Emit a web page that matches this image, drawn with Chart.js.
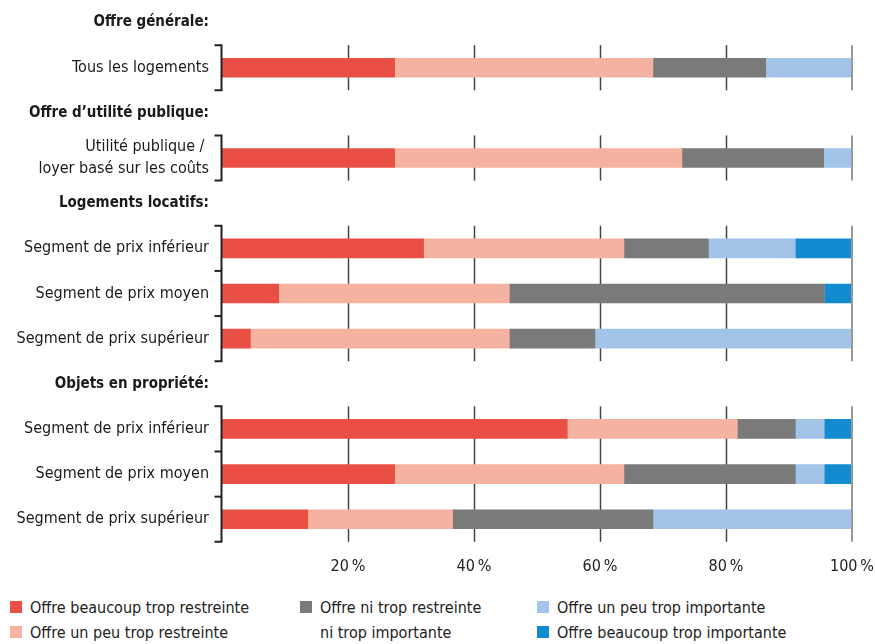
<!DOCTYPE html>
<html lang="fr">
<head>
<meta charset="utf-8">
<title>Offre de logements</title>
<script src="https://cdn.jsdelivr.net/npm/chart.js@4"></script>
<style>
  body { margin: 0; background: #fff; }
  #wrap { position: relative; width: 875px; height: 644px; }
  #graphique { position: absolute; left: 0; top: 0; }
  #legende {
    position: absolute; left: 10px; top: 595px;
    display: grid;
    grid-auto-flow: column;
    grid-template-rows: 25px 25px;
    grid-template-columns: 290px 237px 300px;
    font-family: 'Liberation Sans Narrow', 'DejaVu Sans Condensed', Roboto, sans-serif;
    font-size: 16px; color: #222;
  }
  .item { display: flex; align-items: flex-start; line-height: 25px; white-space: pre-line; }
  .item.double { grid-row: span 2; }
  .carre { width: 12px; height: 12px; margin: 6px 8px 0 0; flex: none; }
</style>
</head>
<body>
<div id="wrap">
  <canvas id="graphique" width="875" height="593"></canvas>
  <div id="legende"></div>
</div>
<script>
const police = "'Liberation Sans Narrow', 'DejaVu Sans Condensed', Roboto, sans-serif";

const categories = [
  'Offre générale:',
  'Tous les logements',
  'Offre d’utilité publique:',
  ['Utilité publique / ', 'loyer basé sur les coûts'],
  'Logements locatifs:',
  'Segment de prix inférieur',
  'Segment de prix moyen',
  'Segment de prix supérieur',
  'Objets en propriété:',
  'Segment de prix inférieur',
  'Segment de prix moyen',
  'Segment de prix supérieur'
];

const nomsSeries = [
  'Offre beaucoup trop restreinte',
  'Offre un peu trop restreinte',
  'Offre ni trop restreinte\nni trop importante',
  'Offre un peu trop importante',
  'Offre beaucoup trop importante'
];
const couleurs = ['#E94F45', '#F5B2A0', '#7A7A7A', '#A2C4E8', '#128BD0'];

// en %, null = ligne de titre
const beaucoupRestreinte = [null, 27.4, null, 27.4, null, 32.0, 9.0, 4.5, null, 54.8, 27.4, 13.6];
const peuRestreinte      = [null, 41.0, null, 45.6, null, 31.8, 36.6, 41.1, null, 27.0, 36.4, 23.0];
const niNi               = [null, 17.9, null, 22.5, null, 13.4, 50.0, 13.6, null, 9.2, 27.2, 31.8];
const peuImportante      = [null, 13.7, null, 4.5, null, 13.8, 0, 40.8, null, 4.6, 4.6, 31.6];
const beaucoupImportante = [null, 0, null, 0, null, 9.0, 4.4, 0, null, 4.4, 4.4, 0];

const graduations = [20, 40, 60, 80, 100];

const series = [beaucoupRestreinte, peuRestreinte, niNi, peuImportante, beaucoupImportante];

function estTitre(label) {
  return typeof label === 'string' && label.endsWith(':');
}

// groupes = suites de lignes qui ne sont pas des titres
function trouverGroupes() {
  const groupes = [];
  let debut = null;
  categories.forEach((c, i) => {
    if (estTitre(c)) {
      if (debut !== null) groupes.push([debut, i - 1]);
      debut = null;
    } else if (debut === null) {
      debut = i;
    }
  });
  if (debut !== null) groupes.push([debut, categories.length - 1]);
  return groupes;
}

function bornesGroupe(chart, g) {
  const y = chart.scales.y;
  const pas = y.getPixelForValue(1) - y.getPixelForValue(0);
  return {
    haut: y.getPixelForValue(g[0]) - pas / 2,
    bas: y.getPixelForValue(g[1]) + pas / 2,
    pas: pas
  };
}

const grillesEtAccolades = {
  id: 'grillesEtAccolades',
  beforeDatasetsDraw(chart) {
    const ctx = chart.ctx;
    const x = chart.scales.x;
    ctx.save();
    ctx.lineWidth = 1.5;
    ctx.strokeStyle = '#444';
    trouverGroupes().forEach(g => {
      const b = bornesGroupe(chart, g);
      graduations.filter(v => v < 100).forEach(v => {
        const px = Math.round(x.getPixelForValue(v)) + 0.5;
        ctx.beginPath();
        ctx.moveTo(px, b.haut);
        ctx.lineTo(px, b.bas);
        ctx.stroke();
      });
    });
    ctx.restore();
  },
  afterDatasetsDraw(chart) {
    const ctx = chart.ctx;
    const x = chart.scales.x;
    const y = chart.scales.y;
    ctx.save();
    trouverGroupes().forEach(g => {
      const b = bornesGroupe(chart, g);
      // ligne des 100 %
      ctx.lineWidth = 2;
      ctx.strokeStyle = '#999';
      const px = x.getPixelForValue(100);
      ctx.beginPath();
      ctx.moveTo(px, b.haut);
      ctx.lineTo(px, b.bas);
      ctx.stroke();
      // accolade à gauche
      const gauche = chart.chartArea.left - 0.5;
      ctx.strokeStyle = '#222';
      ctx.lineWidth = 2;
      ctx.beginPath();
      ctx.moveTo(gauche - 7, b.haut);
      ctx.lineTo(gauche, b.haut);
      ctx.lineTo(gauche, b.bas);
      ctx.lineTo(gauche - 7, b.bas);
      ctx.stroke();
      for (let i = g[0]; i < g[1]; i++) {
        const py = y.getPixelForValue(i) + b.pas / 2;
        ctx.beginPath();
        ctx.moveTo(gauche - 7, py);
        ctx.lineTo(gauche, py);
        ctx.stroke();
      }
    });
    ctx.restore();
  }
};

const chart = new Chart(document.getElementById('graphique'), {
  type: 'bar',
  data: {
    labels: categories,
    datasets: series.map((donnees, i) => ({
      label: nomsSeries[i],
      data: donnees,
      backgroundColor: couleurs[i],
      borderWidth: 0,
      barThickness: 19
    }))
  },
  options: {
    indexAxis: 'y',
    responsive: false,
    animation: false,
    layout: { padding: { top: 0, right: 23, bottom: 2, left: 0 } },
    plugins: {
      legend: { display: false },
      tooltip: { enabled: false }
    },
    scales: {
      x: {
        stacked: true,
        min: 0,
        max: 100,
        grid: { display: false, drawTicks: false },
        border: { display: false },
        afterFit: scale => { scale.paddingLeft = 0; scale.paddingRight = 0; },
        ticks: {
          stepSize: 20,
          padding: 15,
          color: '#222',
          font: { family: police, size: 16 },
          callback: v => (v === 0 ? '' : v + '\u2009%')
        }
      },
      y: {
        stacked: true,
        grid: { display: false, drawTicks: false },
        border: { display: false },
        afterFit: scale => {
          scale.width = 222;
          scale.paddingTop = 0;
          scale.paddingBottom = 0;
        },
        ticks: {
          padding: 13,
          color: '#1a1a1a',
          autoSkip: false,
          font: ctx => {
            const titre = estTitre(categories[ctx.index]);
            return { family: police, size: titre ? 15 : 16, weight: titre ? 'bold' : 'normal', lineHeight: 1.35 };
          }
        }
      }
    }
  },
  plugins: [grillesEtAccolades]
});

const legende = document.getElementById('legende');
chart.data.datasets.forEach(ds => {
  const item = document.createElement('div');
  item.className = 'item' + (ds.label.includes('\n') ? ' double' : '');
  item.innerHTML = `<span class="carre" style="background:${ds.backgroundColor}"></span><span>${ds.label}</span>`;
  legende.appendChild(item);
});
</script>
</body>
</html>
